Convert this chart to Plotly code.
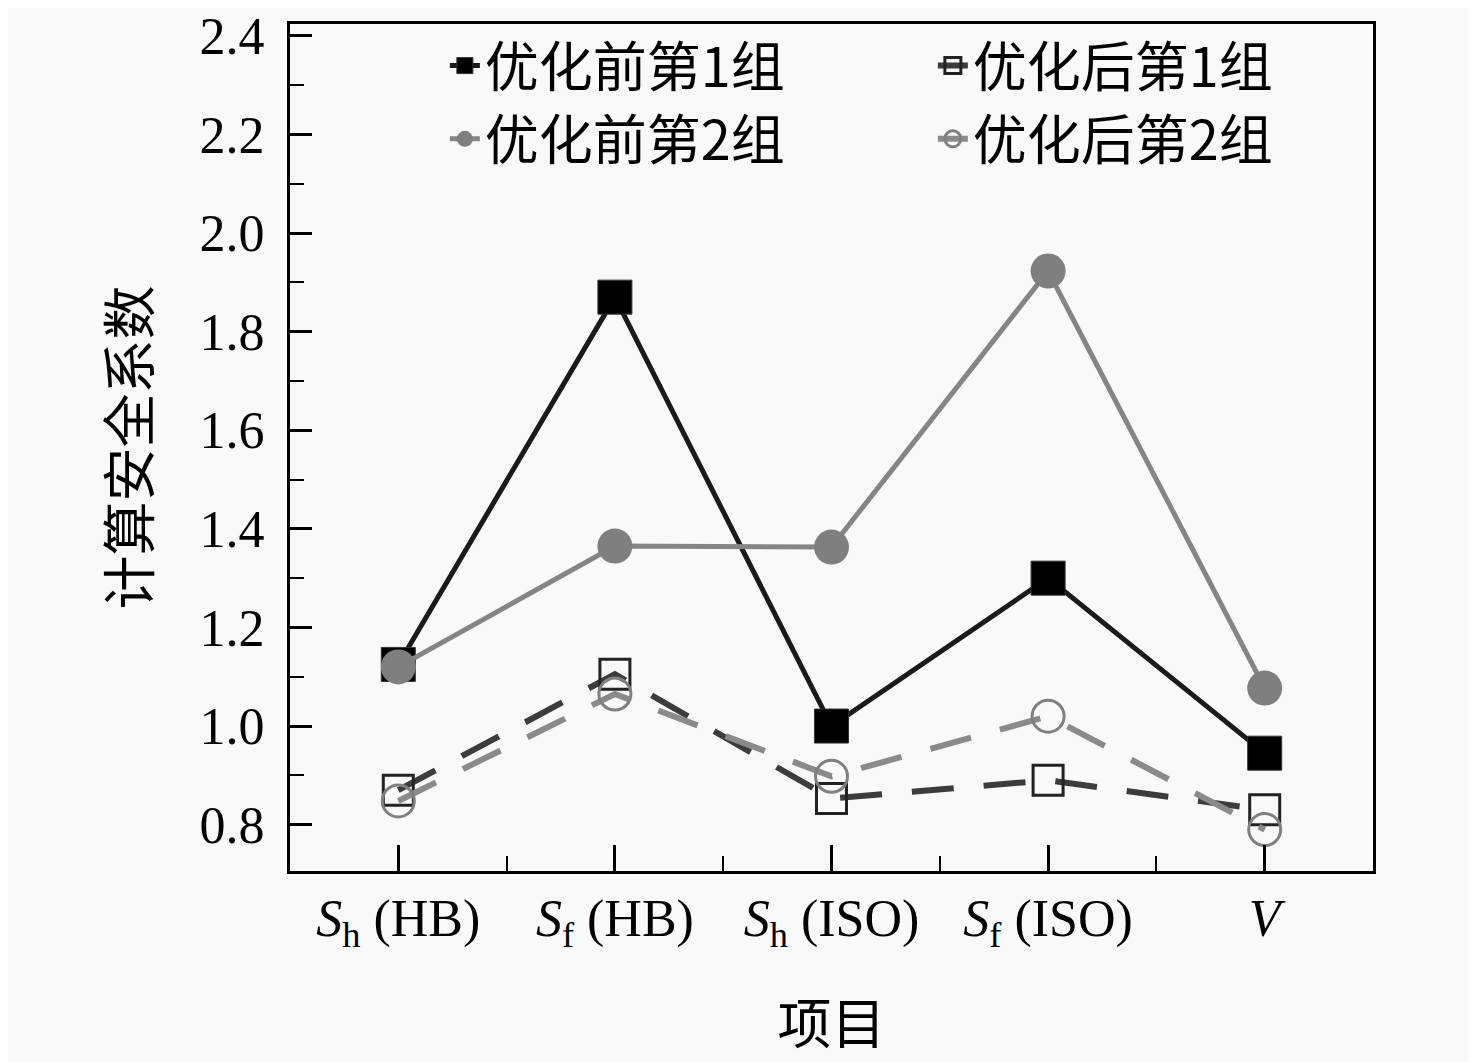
import plotly.graph_objects as go

categories = ["<i>S</i><sub>h</sub> (HB)", "<i>S</i><sub>f</sub> (HB)", "<i>S</i><sub>h</sub> (ISO)",
              "<i>S</i><sub>f</sub> (ISO)", "<i>V</i>"]
before_g1 = [1.125, 1.87, 1.00, 1.30, 0.945]
after_g1 = [0.87, 1.105, 0.853, 0.89, 0.83]
before_g2 = [1.12, 1.365, 1.363, 1.923, 1.077]
after_g2 = [0.848, 1.065, 0.898, 1.02, 0.79]
y_ticks = [0.8, 1.0, 1.2, 1.4, 1.6, 1.8, 2.0, 2.2, 2.4]

xs = list(range(len(categories)))
fig = go.Figure()
fig.add_trace(go.Scatter(x=xs, y=before_g1, name="优化前第1组", mode="lines+markers",
                         line=dict(color="#1a1a1a", width=5),
                         marker=dict(symbol="square", size=34, color="#000000",
                                     line=dict(color="#333333", width=1))))
fig.add_trace(go.Scatter(x=xs, y=after_g1, name="优化后第1组", mode="lines+markers",
                         line=dict(color="#3c3c3c", width=6, dash="42px,30px"),
                         marker=dict(symbol="square-open", size=30, color="#222222",
                                     line=dict(width=3))))
fig.add_trace(go.Scatter(x=xs, y=before_g2, name="优化前第2组", mode="lines+markers",
                         line=dict(color="#858585", width=5),
                         marker=dict(symbol="circle", size=35, color="#7f7f7f")))
fig.add_trace(go.Scatter(x=xs, y=after_g2, name="优化后第2组", mode="lines+markers",
                         line=dict(color="#8a8a8a", width=6, dash="42px,30px"),
                         marker=dict(symbol="circle-open", size=32, color="#808080",
                                     line=dict(width=3))))

axis_font = dict(family="Liberation Serif, Times New Roman, serif", size=52, color="#000000")
cjk_font = dict(family="Noto Sans CJK SC", size=54, color="#000000")

fig.update_layout(
    width=1476, height=1062,
    margin=dict(l=282, r=111, t=0, b=199),
    paper_bgcolor="#f9f9f9", plot_bgcolor="#f9f9f9",
    showlegend=True,
    legend=dict(orientation="h", x=0.143, y=1.0, xanchor="left", yanchor="top",
                entrywidth=443, entrywidthmode="pixels",
                font=cjk_font, bgcolor="rgba(0,0,0,0)", tracegroupgap=0),
    xaxis=dict(range=[-0.5, 4.5], tickmode="array", tickvals=xs, ticktext=categories,
               ticks="inside", ticklen=26, tickwidth=3, tickcolor="#000000",
               minor=dict(dtick=0.5, tick0=0, ticks="inside", ticklen=15, tickwidth=2,
                          tickcolor="#000000"),
               showline=True, linewidth=3, linecolor="#000000", mirror=True,
               showgrid=False, zeroline=False, tickfont=axis_font,
               ticklabeloverflow="allow",
               title=dict(text="项目", font=dict(family="Noto Sans CJK SC", size=54, color="#000000"),
                          standoff=52)),
    yaxis=dict(range=[0.706, 2.424], tickmode="array", tickvals=y_ticks,
               ticktext=[f"{v:.1f}" for v in y_ticks],
               ticks="inside", ticklen=22, tickwidth=3, tickcolor="#000000",
               ticklabelstandoff=12, ticklabeloverflow="allow",
               minor=dict(dtick=0.1, tick0=0.7, ticks="inside", ticklen=14, tickwidth=2,
                          tickcolor="#000000"),
               showline=True, linewidth=3, linecolor="#000000", mirror=True,
               showgrid=False, zeroline=False, tickfont=axis_font,
               title=dict(text="计算安全系数", font=dict(family="Noto Sans CJK SC", size=54, color="#000000"),
                          standoff=32)),
)

fig.write_html("out.html")
